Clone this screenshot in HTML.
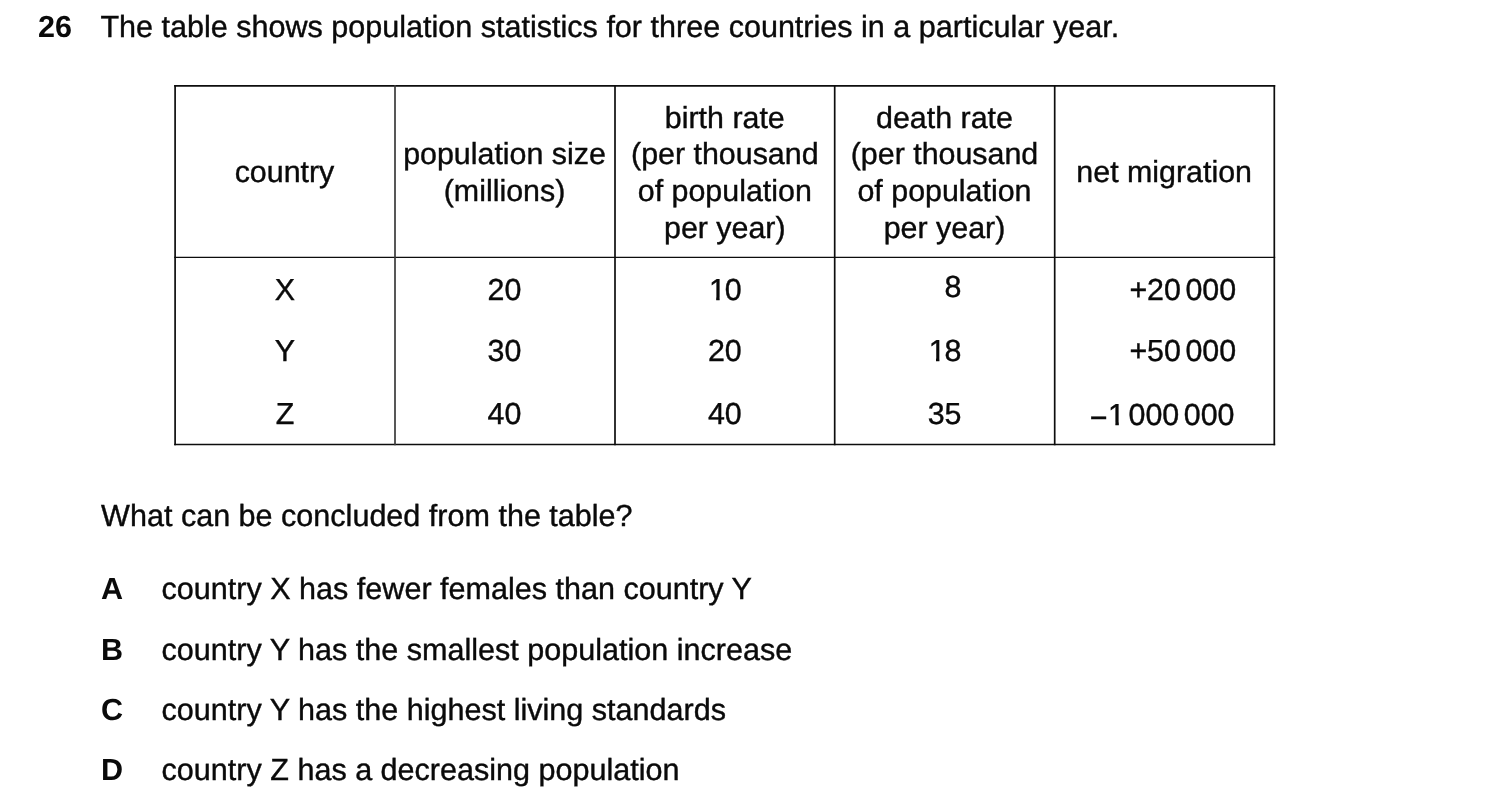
<!DOCTYPE html>
<html>
<head>
<meta charset="utf-8">
<title>Question 26</title>
<style>
html,body{margin:0;padding:0;background:#fff;}
body{width:1500px;height:801px;position:relative;overflow:hidden;
  font-family:"Liberation Sans",Arial,Helvetica,sans-serif;color:#0a0a0a;text-rendering:geometricPrecision;-webkit-text-stroke:0.4px #0a0a0a;}
.t{position:absolute;white-space:nowrap;line-height:36px;height:36px;}
.q{font-size:30.55px;}
.c{font-size:30.4px;}
.b{font-weight:bold;-webkit-text-stroke:0;}
.n{word-spacing:-3.9px;}
.m{position:relative;top:3px;left:.4px;}
.o{display:inline-block;position:relative;left:1px;height:36px;vertical-align:top;
  clip-path:polygon(0 0,100% 0,100% 25px,10.7px 25px,10.7px 100%,7.3px 100%,7.3px 25px,0 25px);}
.grid{position:absolute;left:0;top:0;}
</style>
</head>
<body>
<svg class="grid" width="1500" height="801" viewBox="0 0 1500 801">
<line x1="174.2" y1="85.8" x2="1275.2" y2="85.8" stroke="#0d0d0d" stroke-width="1.65"/>
<line x1="174.2" y1="257.4" x2="1275.2" y2="257.4" stroke="#0d0d0d" stroke-width="1.35"/>
<line x1="174.2" y1="444.5" x2="1275.2" y2="444.5" stroke="#0d0d0d" stroke-width="1.45"/>
<line x1="175.1" y1="84.95" x2="175.1" y2="445.25" stroke="#0d0d0d" stroke-width="1.7"/>
<line x1="395.0" y1="84.95" x2="395.0" y2="445.25" stroke="#3a3a3a" stroke-width="1.7"/>
<line x1="615.0" y1="84.95" x2="615.0" y2="445.25" stroke="#0d0d0d" stroke-width="1.7"/>
<line x1="834.7" y1="84.95" x2="834.7" y2="445.25" stroke="#0d0d0d" stroke-width="1.7"/>
<line x1="1054.7" y1="84.95" x2="1054.7" y2="445.25" stroke="#0d0d0d" stroke-width="1.7"/>
<line x1="1274.3" y1="84.95" x2="1274.3" y2="445.25" stroke="#0d0d0d" stroke-width="1.7"/>
</svg>
<div class="t b q" style="top:9px;left:38px;">26</div>
<div class="t q" style="top:9px;left:100.4px;">The table shows population statistics for three countries in a particular year.</div>
<div class="t c" style="top:154px;left:134.5px;width:300px;text-align:center;">country</div>
<div class="t c" style="top:136px;left:354.5px;width:300px;text-align:center;">population size</div>
<div class="t c" style="top:173px;left:354.5px;width:300px;text-align:center;">(millions)</div>
<div class="t c" style="top:100px;left:574.8px;width:300px;text-align:center;">birth rate</div>
<div class="t c" style="top:136px;left:574.8px;width:300px;text-align:center;">(per thousand</div>
<div class="t c" style="top:173px;left:574.8px;width:300px;text-align:center;">of population</div>
<div class="t c" style="top:210px;left:574.8px;width:300px;text-align:center;">per year)</div>
<div class="t c" style="top:100px;left:794.5px;width:300px;text-align:center;">death rate</div>
<div class="t c" style="top:136px;left:794.5px;width:300px;text-align:center;">(per thousand</div>
<div class="t c" style="top:173px;left:794.5px;width:300px;text-align:center;">of population</div>
<div class="t c" style="top:210px;left:794.5px;width:300px;text-align:center;">per year)</div>
<div class="t c" style="top:154px;left:1014.2px;width:300px;text-align:center;">net migration</div>
<div class="t c" style="top:272px;left:135px;width:300px;text-align:center;">X</div>
<div class="t c" style="top:272px;left:354.5px;width:300px;text-align:center;">20</div>
<div class="t c" style="top:272px;left:574.8px;width:300px;text-align:center;"><span class="o">1</span>0</div>
<div class="t c" style="top:333px;left:135px;width:300px;text-align:center;">Y</div>
<div class="t c" style="top:333px;left:354.5px;width:300px;text-align:center;">30</div>
<div class="t c" style="top:333px;left:574.8px;width:300px;text-align:center;">20</div>
<div class="t c" style="top:396px;left:135px;width:300px;text-align:center;">Z</div>
<div class="t c" style="top:396px;left:354.5px;width:300px;text-align:center;">40</div>
<div class="t c" style="top:396px;left:574.8px;width:300px;text-align:center;">40</div>
<div class="t c" style="top:269px;left:661.5px;width:300px;text-align:right;">8</div>
<div class="t c" style="top:333px;left:661.5px;width:300px;text-align:right;"><span class="o">1</span>8</div>
<div class="t c" style="top:396px;left:661.5px;width:300px;text-align:right;">35</div>
<div class="t c n" style="top:272px;left:936.2px;width:300px;text-align:right;">+20 000</div>
<div class="t c n" style="top:333px;left:936.2px;width:300px;text-align:right;">+50 000</div>
<div class="t c n" style="top:397px;left:934.5px;width:300px;text-align:right;"><span class="m">&#8722;</span><span class="o">1</span> 000 000</div>
<div class="t q" style="top:498px;left:101.1px;">What can be concluded from the table?</div>
<div class="t b q" style="top:571px;left:101px;">A</div>
<div class="t q" style="top:571px;left:161.6px;">country X has fewer females than country Y</div>
<div class="t b q" style="top:632px;left:101px;">B</div>
<div class="t q" style="top:632px;left:161.6px;">country Y has the smallest population increase</div>
<div class="t b q" style="top:692px;left:101px;">C</div>
<div class="t q" style="top:692px;left:161.6px;">country Y has the highest living standards</div>
<div class="t b q" style="top:752px;left:101px;">D</div>
<div class="t q" style="top:752px;left:161.6px;">country Z has a decreasing population</div>
</body>
</html>
